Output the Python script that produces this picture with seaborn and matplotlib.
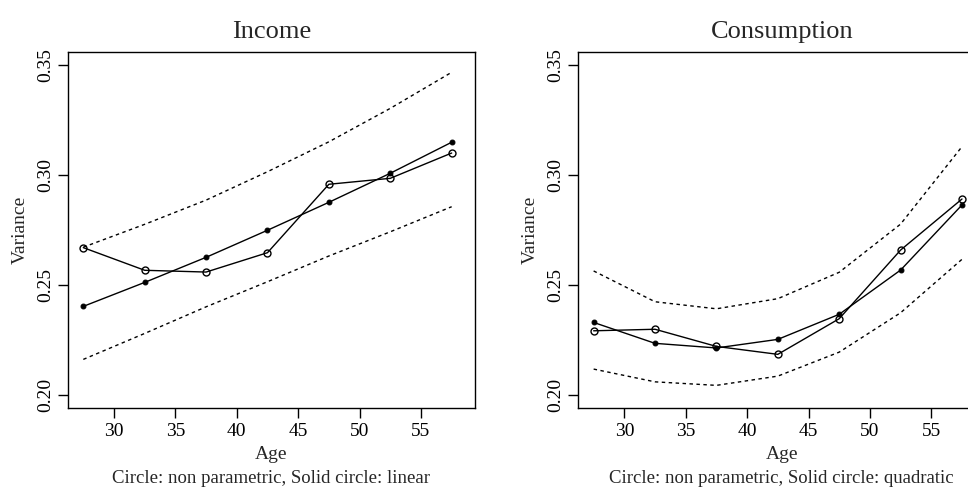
import numpy as np
import pandas as pd
import seaborn as sns
import matplotlib
matplotlib.use("Agg")
import matplotlib.pyplot as plt

# Data
age = [27.5, 32.5, 37.5, 42.5, 47.5, 52.5, 57.5]

inc_nonpar = [0.267, 0.2567, 0.2559, 0.2647, 0.2958, 0.2985, 0.310]
inc_linear = [0.2403, 0.2512, 0.2626, 0.2749, 0.2876, 0.3008, 0.3149]
inc_upper = [0.2672, 0.2776, 0.2886, 0.3015, 0.3151, 0.3303, 0.3467]
inc_lower = [0.2162, 0.228, 0.2401, 0.2515, 0.2632, 0.2742, 0.2856]

con_nonpar = [0.2292, 0.2299, 0.2221, 0.2185, 0.2347, 0.2659, 0.2891]
con_quad = [0.233, 0.2235, 0.2214, 0.2253, 0.2367, 0.2568, 0.2864]
con_upper = [0.2564, 0.2424, 0.2392, 0.2438, 0.2558, 0.2777, 0.3129]
con_lower = [0.2118, 0.206, 0.2044, 0.2086, 0.2195, 0.2374, 0.2617]

titles = ["Income", "Consumption"]
captions = ["Circle: non parametric, Solid circle: linear",
            "Circle: non parametric, Solid circle: quadratic"]
xticks = [30, 35, 40, 45, 50, 55]
yticks = [0.20, 0.25, 0.30, 0.35]

sns.set_style("ticks")
plt.rcParams["font.family"] = ["Liberation Serif", "DejaVu Serif"]

fig = plt.figure(figsize=(9.68, 4.9), dpi=100)
ax1 = fig.add_axes([0.0702, 0.1673, 0.4205, 0.7265])
ax2 = fig.add_axes([0.5974, 0.1673, 0.4205, 0.7265])

panels = [
    (ax1, inc_nonpar, inc_linear, inc_upper, inc_lower),
    (ax2, con_nonpar, con_quad, con_upper, con_lower),
]

for i, (ax, nonpar, fit, up, lo) in enumerate(panels):
    df = pd.DataFrame({"Age": age, "nonpar": nonpar, "fit": fit, "up": up, "lo": lo})
    # confidence bands
    sns.lineplot(data=df, x="Age", y="up", ax=ax, color="black", lw=1, dashes=False,
                 linestyle=(0, (2.5, 2.5)))
    sns.lineplot(data=df, x="Age", y="lo", ax=ax, color="black", lw=1, dashes=False,
                 linestyle=(0, (2.5, 2.5)))
    # parametric fit (solid circles) and non parametric (open circles)
    sns.lineplot(data=df, x="Age", y="fit", ax=ax, color="black", lw=1,
                 marker="o", markersize=3.5, markerfacecolor="black", markeredgecolor="black")
    sns.lineplot(data=df, x="Age", y="nonpar", ax=ax, color="black", lw=1,
                 marker="o", markersize=5, markerfacecolor="none", markeredgecolor="black",
                 markeredgewidth=1)

    ax.set_xlim(26.25, 59.4)
    ax.set_ylim(0.1941, 0.3559)
    ax.set_xticks(xticks)
    ax.set_yticks(yticks)
    ax.set_yticklabels(["%.2f" % v for v in yticks], rotation=90, va="center")
    ax.tick_params(direction="out", length=7, width=1, colors="black", labelsize=14, pad=4)
    ax.tick_params(axis="y", pad=3)
    for s in ax.spines.values():
        s.set_visible(True)
        s.set_linewidth(1)
        s.set_color("black")
    ax.set_title(titles[i], fontsize=19, pad=10)
    ax.set_xlabel("Age", fontsize=14, labelpad=4)
    ax.set_ylabel("Variance", fontsize=14, labelpad=6)
    ax.text(0.5, -0.197, captions[i], transform=ax.transAxes,
            ha="center", va="center", fontsize=13.5)

fig.savefig("out.png", dpi=100)
